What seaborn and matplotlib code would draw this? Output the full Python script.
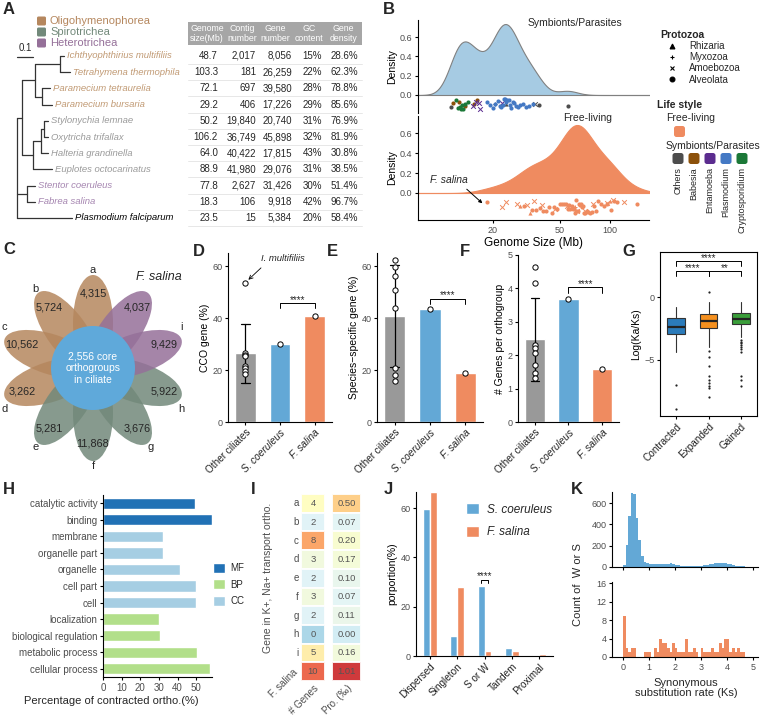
import numpy as np
import pandas as pd
import seaborn as sns
import matplotlib.pyplot as plt
from matplotlib.patches import Ellipse, Circle, FancyBboxPatch, Patch, Rectangle
from matplotlib.lines import Line2D
from matplotlib.ticker import MultipleLocator

W, H = 761, 715

# ---------------- A: ciliate genomes ----------------
species = [
    "Ichthyophthirius multifiliis", "Tetrahymena thermophila", "Paramecium tetraurelia",
    "Paramecium bursaria", "Stylonychia lemnae", "Oxytricha trifallax", "Halteria grandinella",
    "Euplotes octocarinatus", "Stentor coeruleus", "Fabrea salina", "Plasmodium falciparum",
]
species_class = ["Oligohymenophorea"] * 4 + ["Spirotrichea"] * 4 + ["Heterotrichea"] * 2 + ["Outgroup"]
genome_size = [48.7, 103.3, 72.1, 29.2, 50.2, 106.2, 64.0, 88.9, 77.8, 18.3, 23.5]
contig_number = [2017, 181, 697, 406, 19840, 36749, 40422, 41980, 2627, 106, 15]
gene_number = [8056, 26259, 39580, 17226, 20740, 45898, 17815, 29076, 31426, 9918, 5384]
gc_content = [15, 22, 28, 29, 31, 32, 43, 31, 30, 42, 20]
gene_density = [28.6, 62.3, 78.8, 85.6, 76.9, 81.9, 30.8, 38.5, 51.4, 96.7, 58.4]
table_header = ["Genome\nsize(Mb)", "Contig\nnumber", "Gene\nnumber", "GC\ncontent", "Gene\ndensity"]

# tree: (children or leaf name, branch length)
tree = ([
    ([
        ([
            ([("Ichthyophthirius multifiliis", 0.025), ("Tetrahymena thermophila", 0.0625)], 0.156),
            ([("Paramecium tetraurelia", 0.05), ("Paramecium bursaria", 0.0625)], 0.044),
        ], 0.081),
        ([
            ([
                ([("Stylonychia lemnae", 0.025), ("Oxytricha trifallax", 0.025)], 0.019),
                ("Halteria grandinella", 0.044),
            ], 0.05),
            ("Euplotes octocarinatus", 0.119),
        ], 0.069),
    ], 0.031),
    ([("Stentor coeruleus", 0.05), ("Fabrea salina", 0.05)], 0.062),
    ("Plasmodium falciparum", 0.344),
], 0.0)

# ---------------- B: protozoan genome sizes (Mb) ----------------
symb_size = [
    11.3, 20.5, 24.0, 35.5, 37.8, 55.8,
    11.6, 12.6, 13.6, 15.5, 16.0,
    12.1, 12.4, 12.7, 12.9, 13.0, 13.3, 13.7, 14.2,
    15.2, 15.9, 16.4, 16.8, 22.5,
    18.5, 19.3, 20.0, 20.7, 21.3, 21.9, 22.4, 22.8, 23.2, 23.6, 24.0, 24.4,
    24.8, 25.2, 25.7, 26.2, 26.8, 27.5, 28.3, 29.2, 30.3, 31.5, 33.0, 34.5,
]
symb_genus = (["Others"] * 6 + ["Babesia"] * 5 + ["Cryptosporidium"] * 8
              + ["Entamoeba"] * 5 + ["Plasmodium"] * 24)
symb_taxon = (["Alveolata", "Myxozoa", "Rhizaria", "Amoebozoa", "Alveolata", "Alveolata"]
              + ["Alveolata"] * 13 + ["Amoebozoa"] * 5 + ["Alveolata"] * 24)

free_size = [
    18.3, 30.5, 34.0, 36.0, 38.0, 40.0, 41.5, 43.0, 45.0, 46.5, 48.0, 50.0, 52.0, 53.0,
    54.5, 56.0, 57.0, 58.0, 59.0, 60.0, 61.0, 62.0, 62.5, 63.0, 64.0, 65.0, 66.0, 67.0,
    68.0, 69.0, 70.0, 71.0, 72.5, 74.0, 76.0, 78.0, 80.0, 82.0, 85.0, 88.0, 92.0, 96.0,
    101.0, 106.0, 110.0, 144.0,
    22.5, 24.0, 27.7, 31.8, 35.0, 39.0, 47.0, 55.0, 63.5, 70.5, 79.5, 96.0, 104.0, 122.0,
    29.0, 33.2, 56.5, 100.0,
    61.5,
]
free_taxon = ["Alveolata"] * 46 + ["Amoebozoa"] * 14 + ["Rhizaria"] * 4 + ["Myxozoa"]
free_genus = ["Free-living"] * len(free_size)

protozoa = ["Rhizaria", "Myxozoa", "Amoebozoa", "Alveolata"]
symb_genera = ["Others", "Babesia", "Entamoeba", "Plasmodium", "Cryptosporidium"]

# ---------------- C: orthogroup flower ----------------
petal_labels = ["a", "b", "c", "d", "e", "f", "g", "h", "i", "F. salina"]
petal_counts = [4315, 5724, 10562, 3262, 5281, 11868, 3676, 5922, 9429, 4037]
petal_class = species_class[:10]
core_orthogroups = 2556

# ---------------- D/E/F: per-species bars ----------------
groups3 = ["Other ciliates", "S. coeruleus", "F. salina"]
cco_other = [53.6, 26.5, 25.8, 25.2, 21.5, 20.8, 19.5, 18.5]
cco_scoe, cco_fsal = 30.0, 40.7
ssg_other = [62.3, 59.6, 56.2, 50.8, 43.8, 20.8, 18.1, 15.8]
ssg_scoe, ssg_fsal = 43.5, 19.0
gpo_other = [4.65, 4.15, 2.31, 2.21, 2.06, 1.71, 1.46, 1.31]
gpo_scoe, gpo_fsal = 3.68, 1.58

# ---------------- G: Ka/Ks box summaries ----------------
g_groups = ["Contracted", "Expanded", "Gained"]
g_med = [-2.4, -1.9, -1.75]
g_q1 = [-2.94, -2.44, -2.14]
g_q3 = [-1.67, -1.35, -1.3]
g_whislo = [-4.4, -4.0, -3.2]
g_whishi = [-0.8, -0.4, -0.4]
g_fliers = [
    [-7.0, -8.95],
    [0.4, -4.3, -4.76, -5.48, -6.27, -6.6, -6.9, -7.1, -7.3, -8.0],
    [-3.4, -3.55, -3.7, -3.85, -4.0, -4.15, -4.4, -6.3, -6.6, -7.1],
]

# ---------------- H: GO terms ----------------
go_terms = ["catalytic activity", "binding", "membrane", "organelle part", "organelle", "cell part",
            "cell", "localization", "biological regulation", "metabolic process", "cellular process"]
go_pct = [49.2, 58.3, 32.1, 32.3, 41.2, 50.1, 50.1, 29.9, 30.5, 50.5, 57.2]
go_type = ["MF", "MF", "CC", "CC", "CC", "CC", "CC", "BP", "BP", "BP", "BP"]

# ---------------- I: ion transport genes ----------------
ion_rows = ["a", "b", "c", "d", "e", "f", "g", "h", "i", "F. salina"]
ion_genes = [4, 2, 8, 3, 2, 3, 2, 0, 5, 10]
ion_pro = [0.50, 0.07, 0.20, 0.17, 0.10, 0.07, 0.11, 0.00, 0.16, 1.01]

# ---------------- J: duplication modes ----------------
dup_types = ["Dispersed", "Singleton", "S or W", "Tandem", "Proximal"]
dup_scoe = [59.8, 8.1, 28.5, 3.1, 0.5]
dup_fsal = [66.5, 27.9, 2.0, 2.2, 1.0]

# ---------------- K: Ks histograms (0.1 bins from 0 to 5) ----------------
ks_scoe = [15, 210, 480, 700, 690, 460, 250, 100, 45, 38,
           32, 28, 26, 25, 25, 26, 28, 32, 33, 30,
           22, 16, 12, 10, 9, 9, 8, 8, 9, 10,
           12, 15, 20, 25, 30, 35, 40, 42, 40, 36,
           30, 24, 18, 13, 11, 9, 6, 4, 2, 1]
ks_fsal = [9, 2, 1, 2, 2, 0, 0, 0, 1, 1,
           1, 0, 2, 1, 4, 3, 3, 2, 1, 3,
           2, 1, 1, 1, 4, 1, 1, 2, 1, 0,
           2, 1, 1, 1, 2, 1, 1, 3, 2, 4,
           4, 1, 2, 1, 2, 1, 1, 0, 0, 0]

# ---------------- style ----------------
BLUE, ORANGE, GRAY = "#63a8d6", "#ef8b60", "#999999"
LIGHTBLUE = "#a6cbe3"
class_color = {"Oligohymenophorea": "#b5875e", "Spirotrichea": "#72897a", "Heterotrichea": "#957099"}
name_color = {"Oligohymenophorea": "#c19a74", "Spirotrichea": "#9a9a9a",
              "Heterotrichea": "#a585b0", "Outgroup": "black"}
genus_color = {"Others": "#4d4d4d", "Babesia": "#8c510a", "Entamoeba": "#5b2c8f",
               "Plasmodium": "#4479c4", "Cryptosporidium": "#1b7837", "Free-living": ORANGE}
taxon_marker = {"Rhizaria": "^", "Myxozoa": "+", "Amoebozoa": "x", "Alveolata": "o"}
go_pal = {"MF": "#2171b5", "BP": "#b2df8a", "CC": "#a6cee3"}
g_colors = ["#2b7bba", "#f5901e", "#3a9e3a"]
TICK = "#4d4d4d"

sns.set_style("ticks")
plt.rcParams["font.family"] = ["Liberation Sans", "DejaVu Sans"]
plt.rcParams.update({
    "axes.facecolor": "none", "axes.linewidth": 0.8, "axes.edgecolor": "black",
    "xtick.major.size": 2.5, "ytick.major.size": 2.5,
    "xtick.major.width": 0.8, "ytick.major.width": 0.8,
    "xtick.color": "black", "ytick.color": "black",
    "xtick.labelcolor": TICK, "ytick.labelcolor": TICK,
    "xtick.labelsize": 6.5, "ytick.labelsize": 6.5,
    "axes.labelsize": 7.5, "axes.labelcolor": "black",
    "xtick.major.pad": 1.5, "ytick.major.pad": 1.5, "axes.labelpad": 2,
})
np.random.seed(3)

fig = plt.figure(figsize=(W / 100, H / 100), dpi=100)


def box(x0, y0, x1, y1):
    return fig.add_axes([x0 / W, 1 - y1 / H, (x1 - x0) / W, (y1 - y0) / H])


def ftext(x, y, s, **kw):
    fig.text(x / W, 1 - y / H, s, **kw)


def rot_labels(ax, size=7, italic=()):
    for lbl in ax.get_xticklabels():
        lbl.set_rotation(45)
        lbl.set_ha("right")
        lbl.set_rotation_mode("anchor")
        lbl.set_fontsize(size)
        lbl.set_color("#222222")
        if lbl.get_text() in italic:
            lbl.set_style("italic")


def stars(ax, x, y, s):
    # asterisks sit high in their text box, so nudge them down onto the bracket
    ax.annotate(s, (x, y), xytext=(0, -1.2), textcoords="offset points",
                ha="center", va="bottom", fontsize=7)


cv = fig.add_axes([0, 0, 1, 1])
cv.set_xlim(0, W)
cv.set_ylim(H, 0)
cv.axis("off")

# ================= A =================
for k, cls in enumerate(["Oligohymenophorea", "Spirotrichea", "Heterotrichea"]):
    y = 21 + 11 * k
    cv.add_patch(FancyBboxPatch((37, y - 4.5), 9, 9, boxstyle="round,pad=0,rounding_size=1.5",
                                fc=class_color[cls], ec="none"))
    cv.text(50, y, cls, va="center", fontsize=8, color=class_color[cls])
cv.plot([17, 33], [57, 57], color="#333333", lw=0.9)
cv.text(25, 48, "0.1", ha="center", va="center", fontsize=7)

row_y = {name: 56 + 16.2 * i for i, name in enumerate(species)}
cls_of = dict(zip(species, species_class))
TREE_PX = 160.0


def draw_node(node, x_parent):
    content, length = node
    x = x_parent + length * TREE_PX
    if isinstance(content, str):
        y = row_y[content]
        cv.plot([x_parent, x], [y, y], color="#333333", lw=0.9)
        cv.text(x + 3, y, content, va="center", fontsize=6.8, style="italic",
                color=name_color[cls_of[content]])
        return y
    ys = [draw_node(ch, x) for ch in content]
    y = (ys[0] + ys[-1]) / 2
    cv.plot([x, x], [ys[0], ys[-1]], color="#333333", lw=0.9)
    cv.plot([x_parent, x], [y, y], color="#333333", lw=0.9)
    return y


draw_node(tree, 17)

cv.add_patch(Rectangle((188, 22), 174, 23, fc="#a6a6a6", ec="none"))
for x, hdr in zip([207, 242, 275, 309, 343], table_header):
    cv.text(x, 33.5, hdr, ha="center", va="center", color="white", fontsize=6.3, linespacing=1.05)
col_right = [218, 256, 292, 322, 358]
for i, row in enumerate(zip(genome_size, contig_number, gene_number, gc_content, gene_density)):
    y = 56 + 16.2 * i
    cells = [f"{row[0]:.1f}", f"{row[1]:,}", f"{row[2]:,}", f"{row[3]}%", f"{row[4]:.1f}%"]
    for x, s in zip(col_right, cells):
        cv.text(x, y, s, ha="right", va="center", fontsize=7)
    cv.plot([188, 362], [y + 8, y + 8], color="#e3e3e3", lw=0.6)

# ================= B =================
xl = (np.log2(7.13), np.log2(171))
symb = pd.DataFrame({"size": symb_size, "genus": symb_genus, "taxon": symb_taxon})
free = pd.DataFrame({"size": free_size, "genus": free_genus, "taxon": free_taxon})


def ridge(ax, df, fill, edge, top_px, bot_px, zero_px, peak_px, strip_px, jit_px, bw):
    sns.kdeplot(x=np.log2(df["size"]), ax=ax, fill=True, color=fill, alpha=1,
                edgecolor=edge, linewidth=0.8, bw_adjust=bw, cut=10)
    peak = ax.collections[0].get_paths()[0].vertices[:, 1].max()
    upp = peak / (zero_px - peak_px)
    ystrip = -(strip_px - zero_px) * upp
    for (genus, taxon), sub in df.groupby(["genus", "taxon"]):
        m = taxon_marker[taxon]
        c = genus_color[genus]
        filled = m in ("o", "^")
        sns.stripplot(x=np.log2(sub["size"]), y=np.full(len(sub), ystrip), orient="h",
                      native_scale=True, jitter=jit_px * upp, marker=m, color=c, edgecolor=c,
                      linewidth=0 if filled else 0.7, size=3.0 if filled else 3.4, ax=ax, zorder=3)
    ax.set_xlim(xl)
    ytop = (zero_px - top_px) * upp
    ax.yaxis.set_major_locator(MultipleLocator(0.2))
    ax.yaxis.set_major_formatter(plt.FormatStrFormatter("%.1f"))
    ax.set_ylim(-(bot_px - zero_px) * upp, ytop)
    ax.set_ylabel("Density", fontsize=7.5)
    ax.set_xlabel("")
    return ystrip


axb1 = box(418, 20, 649, 113)
axb2 = box(418, 116, 649, 220)
ridge(axb1, symb, LIGHTBLUE, "#808080", 20, 113, 95, 24, 104, 5.5, 0.8)
ys2 = ridge(axb2, free, ORANGE, ORANGE, 116, 220, 193, 125, 207, 7, 0.9)
for ax in (axb1, axb2):
    ax.set_yticks([t for t in ax.get_yticks() if 0 <= t <= ax.get_ylim()[1]])
sns.despine(ax=axb1, bottom=True)
axb1.set_xticks([])
sns.despine(ax=axb2)
axb2.set_xticks(np.log2([20, 50, 100]), ["20", "50", "100"])
axb2.set_xlabel("Genome Size (Mb)", fontsize=8.5, labelpad=2)
ftext(575, 23, "Symbionts/Parasites", ha="center", va="center", fontsize=7.5)
ftext(588, 118, "Free-living", ha="center", va="center", fontsize=7.5)
axb2.annotate("F. salina", xy=(np.log2(18.3), ys2), xytext=(430, H - 180), textcoords="figure pixels",
              fontsize=7.5, style="italic", ha="left", va="center",
              arrowprops=dict(arrowstyle="-|>", color="black", lw=0.7, mutation_scale=5,
                              shrinkA=1, shrinkB=4, relpos=(0.85, 0.0)))

handles = [Line2D([], [], ls="", marker=taxon_marker[t], color="black",
                  markersize=3.5, markeredgewidth=0.8) for t in protozoa]
fig.legend(handles, protozoa, loc="upper left", bbox_to_anchor=(655 / W, 1 - 25 / H), frameon=False,
           title="Protozoa", alignment="left", fontsize=7,
           title_fontproperties={"weight": "bold", "size": 7.5},
           handlelength=2.4, handletextpad=0.6, labelspacing=0.12, borderpad=0)
ftext(657, 105, "Life style", fontsize=7.5, fontweight="bold", va="center")
ftext(666, 118, "Free-living", fontsize=7.5, va="center")
cv.add_patch(FancyBboxPatch((674, 126), 11, 11, boxstyle="round,pad=0,rounding_size=2.5",
                            fc=ORANGE, ec="none"))
ftext(666, 146, "Symbionts/Parasites", fontsize=7.5, va="center")
for k, g in enumerate(symb_genera):
    x = 678 + 16 * k
    cv.add_patch(FancyBboxPatch((x - 5.5, 153), 11, 11, boxstyle="round,pad=0,rounding_size=2.5",
                                fc=genus_color[g], ec="none"))
    ftext(x, 167, g, rotation=90, ha="center", va="top", fontsize=6.5)

# ================= C =================
cx, cy = 93, 368
for k, (lab, n, cls) in enumerate(zip(petal_labels, petal_counts, petal_class)):
    th_deg = 90 + 36 * k
    th = np.deg2rad(th_deg)
    cv.add_patch(Ellipse((cx + 45 * np.cos(th), cy - 45 * np.sin(th)), 96, 40, angle=-th_deg,
                         fc=class_color[cls], alpha=0.85, lw=0))
    cv.text(cx + 75 * np.cos(th), cy - 75 * np.sin(th), f"{n:,}", ha="center", va="center", fontsize=7.8)
for k, lab in enumerate(petal_labels):
    th_deg = 90 + 36 * k
    c, s = np.cos(np.deg2rad(th_deg)), np.sin(np.deg2rad(th_deg))
    if abs(c) > 0.9:
        th_deg += 7 * np.sign(s) * np.sign(c)
    th = np.deg2rad(th_deg)
    r = 112 if lab == "F. salina" else 98
    cv.text(cx + r * np.cos(th), cy - r * np.sin(th), lab, ha="center", va="center",
            fontsize=9 if lab == "F. salina" else 8, style="italic" if lab == "F. salina" else "normal")
cv.add_patch(Circle((cx, cy), 42, fc="#5fa9da", ec="none"))
cv.text(cx, cy, f"{core_orthogroups:,} core\northogroups\nin ciliate", ha="center", va="center",
        color="white", fontsize=7.5, linespacing=1.2)

# ================= D/E/F =================
pal3 = dict(zip(groups3, [GRAY, BLUE, ORANGE]))


def bar_panel(ax, other, scoe, fsal, ylab, ylim, yticks, sig_off, tick_h):
    df = pd.DataFrame({"group": [groups3[0]] * len(other) + groups3[1:],
                       "value": list(other) + [scoe, fsal]})
    sns.barplot(data=df, x="group", y="value", hue="group", order=groups3, hue_order=groups3,
                palette=pal3, errorbar="sd", capsize=0.25, width=0.6, saturation=1,
                err_kws={"color": "black", "linewidth": 0.9}, legend=False, ax=ax)
    sns.stripplot(data=df, x="group", y="value", order=groups3, jitter=False, color="white",
                  edgecolor="black", linewidth=0.7, size=3.8, ax=ax, zorder=4)
    top = max(scoe, fsal) + sig_off
    ax.plot([1, 1, 2, 2], [top - tick_h, top, top, top - tick_h], color="black", lw=0.7)
    stars(ax, 1.5, top, "****")
    ax.set_xlim(-0.5, 2.5)
    ax.set_ylim(ylim)
    ax.set_yticks(yticks)
    ax.set_xlabel("")
    ax.set_ylabel(ylab)
    sns.despine(ax=ax)
    rot_labels(ax, 7.2, italic=groups3[1:])


axd = box(228, 253, 332, 422)
bar_panel(axd, cco_other, cco_scoe, cco_fsal, "CCO gene (%)", (0, 65), [0, 20, 40, 60], 5, 2)
axd.annotate("I. multifiliis", xy=(0, cco_other[0]), xytext=(1.08, 63), fontsize=6.8, style="italic",
             ha="center", va="center",
             arrowprops=dict(arrowstyle="->", lw=0.6, color="black", shrinkB=3, relpos=(0.15, 0.1)))
axe = box(377, 253, 483, 422)
bar_panel(axe, ssg_other, ssg_scoe, ssg_fsal, "Species\u2212specific gene (%)", (0, 65),
          [0, 20, 40, 60], 4, 2)
axf = box(518, 255, 619, 422)
bar_panel(axf, gpo_other, gpo_scoe, gpo_fsal, "# Genes per orthogroup", (0, 5), [0, 1, 2, 3, 4, 5],
          0.35, 0.17)

# ================= G =================
axg = box(660, 252, 757, 416)
stats = [dict(med=m, q1=a, q3=b, whislo=lo, whishi=hi, fliers=f, label=l)
         for m, a, b, lo, hi, f, l in zip(g_med, g_q1, g_q3, g_whislo, g_whishi, g_fliers, g_groups)]
bp = axg.bxp(stats, positions=[0, 1, 2], widths=0.55, patch_artist=True, showcaps=False,
             boxprops=dict(edgecolor="#333333", linewidth=0.8),
             medianprops=dict(color="#222222", linewidth=1.6),
             whiskerprops=dict(color="#333333", linewidth=0.8),
             flierprops=dict(marker="o", markersize=1.6, markerfacecolor="#222222", markeredgecolor="none"))
for patch, c in zip(bp["boxes"], g_colors):
    patch.set_facecolor(c)
base = max(max(g_whishi), max(max(f) for f in g_fliers))
y1, y2, th = base + 1.65, base + 2.45, 0.35
axg.plot([0, 0, 1, 1], [y1 - th, y1, y1, y1 - th], color="black", lw=0.7)
axg.plot([1, 1, 2, 2], [y1 - th, y1, y1, y1 - th], color="black", lw=0.7)
axg.plot([0, 0, 2, 2], [y2 - th, y2, y2, y2 - th], color="black", lw=0.7)
stars(axg, 0.5, y1, "****")
stars(axg, 1.5, y1, "**")
stars(axg, 1.0, y2, "****")
axg.set_xlim(-0.5, 2.5)
axg.set_ylim(-9.5, 3.6)
axg.set_yticks([-5, 0])
axg.set_xticks([0, 1, 2], g_groups)
axg.set_ylabel("Log(Ka/Ks)")
rot_labels(axg, 7.2)

# ================= H =================
axh = box(103, 495, 212, 677)
sns.barplot(x=go_pct, y=go_terms, hue=go_type, palette=go_pal, dodge=False, width=0.68,
            saturation=1, orient="h", legend=False, ax=axh)
axh.set_xlim(0, 58.5)
axh.set_xticks([0, 10, 20, 30, 40, 50])
axh.tick_params(axis="y", labelsize=7)
axh.tick_params(axis="x", labelsize=7)
sns.despine(ax=axh)
ftext(111, 701, "Percentage of contracted ortho.(%)", ha="center", va="center", fontsize=8)
fig.legend([Patch(fc=go_pal[k]) for k in ["MF", "BP", "CC"]], ["MF", "BP", "CC"], loc="upper left",
           bbox_to_anchor=(208 / W, 1 - 558 / H), frameon=False, fontsize=7, handlelength=1.2,
           handleheight=1.2, labelspacing=0.65, handletextpad=0.6, borderpad=0)

# ================= I =================
axi1 = box(301, 494, 325, 681)
axi2 = box(332, 494, 361, 681)
genes = np.array(ion_genes, dtype=float)
pro = np.array(ion_pro)
for ax, vals, name, fmt in [(axi1, genes, "# Genes", "d"), (axi2, pro, "Pro. (\u2030)", ".2f")]:
    z = (vals - vals.mean()) / vals.std(ddof=1)
    annot = np.array(ion_genes).reshape(-1, 1) if fmt == "d" else pro.reshape(-1, 1)
    sns.heatmap(pd.DataFrame({name: z}, index=ion_rows), ax=ax, cmap="RdYlBu_r", vmin=-3, vmax=3,
                annot=annot, fmt=fmt, cbar=False, linewidths=1.3, linecolor="white", alpha=0.9,
                annot_kws={"color": "#555555", "size": 6.8})
    ax.tick_params(length=0, labelsize=7)
    rot_labels(ax, 7)
    for lbl in ax.get_xticklabels():
        lbl.set_color(TICK)
axi2.set_yticks([])
# the bottom row label is written slanted, like the column labels
axi1.set_yticks(np.arange(len(ion_rows) - 1) + 0.5, ion_rows[:-1], rotation=0)
ftext(296, 671, ion_rows[-1], rotation=45, ha="right", va="center", rotation_mode="anchor",
      fontsize=7, color=TICK)
axi1.set_ylabel("Gene in K+, Na+ transport ortho.", fontsize=7.5, color=TICK)
axi1.yaxis.set_label_coords(-1.15, 0.55)

# ================= J =================
axj = box(416, 492, 553, 656)
dfj = pd.DataFrame({"type": dup_types * 2, "pct": dup_scoe + dup_fsal,
                    "species": ["S. coeruleus"] * 5 + ["F. salina"] * 5})
sns.barplot(data=dfj, x="type", y="pct", hue="species", palette={"S. coeruleus": BLUE, "F. salina": ORANGE},
            width=0.5, saturation=1, legend=False, ax=axj)
ysig = max(dup_scoe[2], dup_fsal[2]) + 2.5
axj.plot([1.875, 1.875, 2.125, 2.125], [ysig - 1.5, ysig, ysig, ysig - 1.5], color="black", lw=0.7)
stars(axj, 2.0, ysig, "****")
axj.set_ylim(0, 66.5)
axj.set_xlim(-0.5, 4.5)
axj.set_yticks([0, 20, 40, 60])
axj.set_xlabel("")
axj.set_ylabel("porportion(%)")
sns.despine(ax=axj)
rot_labels(axj, 7.2)
fig.legend([Patch(fc=BLUE), Patch(fc=ORANGE)], ["S. coeruleus", "F. salina"], loc="upper left",
           bbox_to_anchor=(460 / W, 1 - 497 / H), frameon=False, prop={"style": "italic", "size": 8.5},
           handlelength=1.1, handleheight=1.1, labelspacing=0.85, handletextpad=0.7, borderpad=0)

# ================= K =================
ks_lo = np.round(np.arange(0, 5.0, 0.1), 2)
ks = pd.DataFrame({"ks": ks_lo + 0.05, "scoe": ks_scoe, "fsal": ks_fsal})
axk1 = box(612, 492, 758, 567)
axk2 = box(612, 582, 758, 657)
sns.histplot(data=ks, x="ks", weights="scoe", binwidth=0.1, binrange=(0, 5), color=BLUE,
             alpha=1, linewidth=0, ax=axk1)
sns.histplot(data=ks, x="ks", weights="fsal", binwidth=0.1, binrange=(0, 5), color=ORANGE,
             alpha=1, linewidth=0, ax=axk2)
for ax in (axk1, axk2):
    ax.set_xlim(-0.42, 5.2)
    ax.set_xticks([0, 1, 2, 3, 4, 5])
    ax.set_xlabel("")
    ax.set_ylabel("")
    sns.despine(ax=ax)
axk1.set_xticklabels([])
axk1.set_ylim(0, 705)
axk1.set_yticks([0, 200, 400, 600])
axk2.set_ylim(0, 16.3)
axk2.set_yticks([0, 4, 8, 12, 16])
ftext(578, 585, "Count of  W or S", rotation=90, ha="center", va="center", fontsize=8)
ftext(686, 688, "Synonymous\nsubstitution rate (Ks)", ha="center", va="center", fontsize=8,
      linespacing=1.1)

# ================= panel letters =================
for lab, x, y in [("A", 3, 10), ("B", 383, 10), ("C", 3, 250), ("D", 193, 252), ("E", 327, 252),
                  ("F", 460, 252), ("G", 622, 252), ("H", 3, 490), ("I", 251, 490), ("J", 384, 490),
                  ("K", 571, 490)]:
    ftext(x, y, lab, fontsize=12, fontweight="bold", va="center", ha="left")

fig.savefig("out.png", dpi=100, facecolor="white")
